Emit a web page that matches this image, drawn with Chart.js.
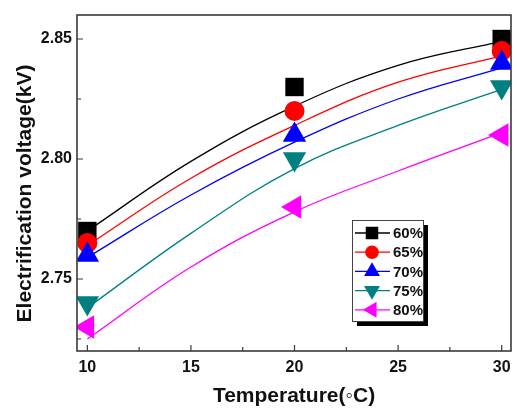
<!DOCTYPE html>
<html>
<head>
<meta charset="utf-8">
<script src="https://cdn.jsdelivr.net/npm/chart.js@4/dist/chart.umd.min.js"></script>
<style>
  html, body { margin: 0; padding: 0; background: #fff; }
</style>
</head>
<body>
<canvas id="chart" width="517" height="413"></canvas>
<script>
// measured points (temperature in °C, voltage in kV)
const temps = [10, 20, 30];
const seriesNames = ['60%', '65%', '70%', '75%', '80%'];
const v60 = [2.770, 2.830, 2.850];
const v65 = [2.765, 2.820, 2.845];
const v70 = [2.760, 2.810, 2.840];
const v75 = [2.740, 2.800, 2.830];
const v80 = [2.730, 2.780, 2.810];

// fitted curves
const fitX = [10, 15, 20, 25, 30];
const fit60 = [2.770, 2.799, 2.822, 2.839, 2.849];
const fit65 = [2.764, 2.792, 2.814, 2.832, 2.843];
const fit70 = [2.759, 2.785, 2.807, 2.825, 2.838];
const fit75 = [2.738, 2.769, 2.796, 2.814, 2.829];
const fit80 = [2.725, 2.755, 2.778, 2.795, 2.811];

// axes
const xTicks = [10, 15, 20, 25, 30];
const xMinor = [12.5, 17.5, 22.5, 27.5];
const yTicks = [2.75, 2.80, 2.85];
const yMinor = [2.725, 2.775, 2.825];

const colors = ['#000000', '#ff0000', '#0000ff', '#008080', '#ff00ff'];
const styles = [
  { pointStyle: 'rect', rotation: 0, radius: 13 },
  { pointStyle: 'circle', rotation: 0, radius: 10 },
  { pointStyle: 'triangle', rotation: 0, radius: 13.5 },
  { pointStyle: 'triangle', rotation: 180, radius: 13.5 },
  { pointStyle: 'triangle', rotation: 270, radius: 13.5 }
];

const FONT = "'Liberation Sans', Arial, sans-serif";
const pts = (xs, ys) => xs.map((x, i) => ({ x, y: ys[i] }));

const measured = [v60, v65, v70, v75, v80];
const fits = [fit60, fit65, fit70, fit75, fit80];

const datasets = [];
fits.forEach((f, i) => {
  datasets.push({
    label: seriesNames[i] + ' fit',
    data: pts(fitX, f),
    showLine: true,
    borderColor: colors[i],
    borderWidth: 1.3,
    pointRadius: 0,
    tension: 0.4,
    order: 10
  });
});
measured.forEach((m, i) => {
  datasets.push({
    label: seriesNames[i],
    data: pts(temps, m),
    showLine: false,
    backgroundColor: colors[i],
    borderColor: colors[i],
    borderWidth: 0,
    pointStyle: styles[i].pointStyle,
    pointRotation: styles[i].rotation,
    pointRadius: styles[i].radius,
    pointHoverRadius: styles[i].radius,
    order: 5 - i
  });
});

const frameAndTicks = {
  id: 'frameAndTicks',
  afterDatasetsDraw(chart) {
    const { ctx, chartArea: a, scales: { x, y } } = chart;
    ctx.save();
    ctx.strokeStyle = '#3a3a3a';
    ctx.lineWidth = 1.2;
    ctx.beginPath();
    xTicks.forEach(v => { const p = x.getPixelForValue(v); ctx.moveTo(p, a.bottom); ctx.lineTo(p, a.bottom - 6); });
    xMinor.forEach(v => { const p = x.getPixelForValue(v); ctx.moveTo(p, a.bottom); ctx.lineTo(p, a.bottom - 4); });
    yTicks.forEach(v => { const p = y.getPixelForValue(v); ctx.moveTo(a.left, p); ctx.lineTo(a.left + 6, p); });
    yMinor.forEach(v => { const p = y.getPixelForValue(v); ctx.moveTo(a.left, p); ctx.lineTo(a.left + 4, p); });
    ctx.stroke();
    ctx.lineWidth = 1.6;
    ctx.strokeRect(a.left, a.top, a.right - a.left, a.bottom - a.top);
    ctx.restore();
  },
  afterDraw(chart) {
    // legend box with drop shadow
    const ctx = chart.ctx;
    const bx = 352, by = 220, bw = 71, bh = 101;
    ctx.save();
    ctx.fillStyle = '#000';
    ctx.fillRect(bx + 5, by + 5, bw, bh);
    ctx.fillStyle = '#fff';
    ctx.fillRect(bx, by, bw, bh);
    ctx.strokeStyle = '#444';
    ctx.lineWidth = 1;
    ctx.strokeRect(bx + 0.5, by + 0.5, bw, bh);
    seriesNames.forEach((name, i) => {
      const cy = by + 13 + i * 19.2;
      ctx.strokeStyle = colors[i];
      ctx.lineWidth = 1.3;
      ctx.beginPath();
      ctx.moveTo(bx + 3, cy);
      ctx.lineTo(bx + 38, cy);
      ctx.stroke();
      ctx.fillStyle = colors[i];
      Chart.helpers.drawPoint(ctx, {
        pointStyle: styles[i].pointStyle,
        rotation: styles[i].rotation,
        radius: styles[i].radius * 0.68,
        borderWidth: 0
      }, bx + 20, cy);
      ctx.fillStyle = '#111';
      ctx.font = 'bold 15px ' + FONT;
      ctx.textBaseline = 'middle';
      ctx.textAlign = 'left';
      ctx.fillText(name, bx + 41, cy + 1);
    });
    ctx.restore();
  }
};

new Chart(document.getElementById('chart').getContext('2d'), {
  type: 'scatter',
  data: { datasets },
  plugins: [frameAndTicks],
  options: {
    responsive: false,
    animation: false,
    layout: { autoPadding: false, padding: { top: 15, right: 6, left: 0, bottom: 0 } },
    plugins: { legend: { display: false }, tooltip: { enabled: false } },
    scales: {
      x: {
        type: 'linear',
        min: 9.5,
        max: 30.45,
        afterBuildTicks: s => { s.ticks = xTicks.map(v => ({ value: v })); },
        afterFit: s => { s.height = 62; s.paddingLeft = 0; s.paddingRight = 0; },
        grid: { display: false, drawTicks: false },
        border: { display: false },
        ticks: {
          padding: 7,
          color: '#111',
          font: { family: FONT, size: 16, weight: 'bold' },
          callback: v => String(v)
        },
        title: {
          display: true,
          text: 'Temperature(\u25E6C)',
          color: '#111',
          font: { family: FONT, size: 21, weight: 'bold' },
          padding: { top: 0, bottom: 4 }
        }
      },
      y: {
        type: 'linear',
        min: 2.72,
        max: 2.86,
        afterBuildTicks: s => { s.ticks = yTicks.map(v => ({ value: v })); },
        afterFit: s => { s.width = 77; s.paddingTop = 0; s.paddingBottom = 0; },
        grid: { display: false, drawTicks: false },
        border: { display: false },
        ticks: {
          padding: 5,
          color: '#111',
          font: { family: FONT, size: 16, weight: 'bold' },
          callback: v => Number(v).toFixed(2)
        },
        title: {
          display: true,
          // trailing en spaces nudge the title down a little, as in the original
          text: 'Electrification voltage(kV)\u2002\u2002',
          color: '#111',
          font: { family: FONT, size: 21, weight: 'bold' },
          padding: { top: 13, bottom: 0 }
        }
      }
    }
  }
});
</script>
</body>
</html>
